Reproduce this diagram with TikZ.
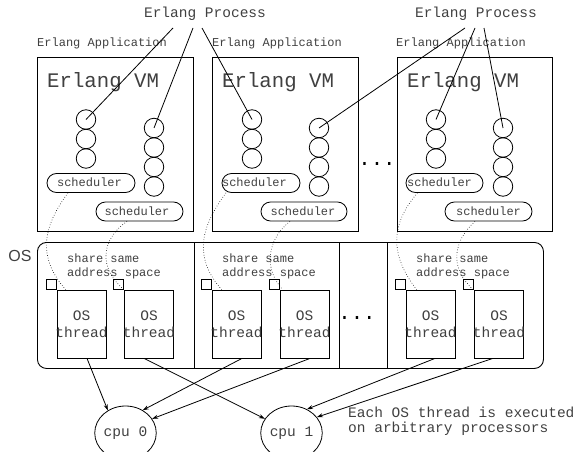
\documentclass[tikz,border=0pt]{standalone}
\usepackage{fontspec}
\setmainfont{Liberation Mono}
\newfontfamily\sansOS{Liberation Sans}
\usetikzlibrary{arrows.meta,shapes.geometric}
\begin{document}
\begin{tikzpicture}[x=1pt,y=-1pt,
  ftxt/.style={font=\fontsize{14.5}{17}\selectfont, inner sep=0, text=black!75},
  stxt/.style={font=\fontsize{12}{14.5}\selectfont, inner sep=0, text=black!75},
  vmtxt/.style={font=\fontsize{20.7}{24}\selectfont, inner sep=0, text=black!75},
  vmbox/.style={draw, line width=0.9pt, inner sep=0, anchor=north west, minimum height=174pt},
  proc/.style={circle, draw, minimum size=19.5pt, inner sep=0, line width=0.8pt},
  sched/.style={draw, rounded corners=9.5pt, minimum height=19pt, inner sep=0, line width=0.8pt},
  thr/.style={draw, inner sep=0, minimum width=49pt, minimum height=68pt, line width=0.8pt},
  sq/.style={draw, inner sep=0, minimum size=10pt, line width=0.8pt, anchor=south east},
  cpu/.style={ellipse, draw, minimum width=61pt, minimum height=54pt, inner sep=0, line width=0.8pt, font=\fontsize{14.5}{17}\selectfont, text=black!75},
  link/.style={line width=0.8pt},
  arr/.style={line width=0.8pt, -{Stealth[length=6pt,width=4pt]}},
  dots/.style={dotted, line width=0.6pt}
]
\useasboundingbox (0,0) rectangle (578,452);

% Erlang Process labels
\node[ftxt, anchor=base] (ep1) at (205,18) {Erlang Process};
\node[ftxt, anchor=base] (ep2) at (476,18) {Erlang Process};

% Erlang Application labels
\node[stxt, anchor=base west] (app1) at (37,47) {Erlang Application};
\node[stxt, anchor=base west] (app2) at (212,47) {Erlang Application};
\node[stxt, anchor=base west] (app3) at (396,47) {Erlang Application};

% VM boxes
\node[vmbox, minimum width=156pt] (vm1) at (37,57) {};
\node[vmbox, minimum width=146pt] (vm2) at (212,57) {};
\node[vmbox, minimum width=155pt] (vm3) at (397,57) {};
\node[vmtxt, anchor=base west] (vmt1) at (47,87) {Erlang VM};
\node[vmtxt, anchor=base west] (vmt2) at (222,87) {Erlang VM};
\node[vmtxt, anchor=base west] (vmt3) at (407,87) {Erlang VM};

% processes
\foreach \b/\xa/\xb in {1/86/154, 2/252/319, 3/436/503} {
  \foreach \i/\yy in {1/119.5, 2/139, 3/158.5}
    \node[proc] (a\b\i) at (\xa,\yy) {};
  \foreach \i/\yy in {1/128, 2/147.5, 3/167, 4/186.5}
    \node[proc] (b\b\i) at (\xb,\yy) {};
}

% dots between VMs
\node[vmtxt, anchor=base, text=black] (vmdots) at (377,165) {...};

% schedulers
\node[sched, minimum width=88pt] (s11) at (91,183) {};
\node[stxt, anchor=base] (s11t) at (89.5,186) {scheduler};
\node[sched, minimum width=87pt] (s12) at (139.5,211.5) {};
\node[stxt, anchor=base] (s12t) at (137,215) {scheduler};
\node[sched, minimum width=78pt] (s21) at (261,183) {};
\node[stxt, anchor=base] (s21t) at (254.5,186) {scheduler};
\node[sched, minimum width=86pt] (s22) at (304,211.5) {};
\node[stxt, anchor=base] (s22t) at (303,215) {scheduler};
\node[sched, minimum width=77pt] (s31) at (444.5,183) {};
\node[stxt, anchor=base] (s31t) at (439.5,186) {scheduler};
\node[sched, minimum width=87pt] (s32) at (488.5,211.5) {};
\node[stxt, anchor=base] (s32t) at (488.5,215) {scheduler};

% OS box
\node[draw, line width=0.9pt, rounded corners=9pt, inner sep=0, anchor=north west,
      minimum width=506pt, minimum height=126pt] (os) at (37,242) {};
\draw[line width=0.8pt] (os.north -| vm1.east) -- (os.south -| vm1.east);
\draw[line width=0.8pt] (339,242) -- (339,368);
\draw[line width=0.8pt] (387,242) -- (387,368);
\node[font=\sansOS\fontsize{16}{18}\selectfont, inner sep=0, anchor=base, text=black!75] (oslabel) at (20,261) {OS};
\node[vmtxt, anchor=base, text=black] (osdots) at (357,319) {...};

% share same address space
\foreach \k/\xx in {1/67, 2/222, 3/416} {
  \node[stxt, anchor=base west] (sh\k) at (\xx,262) {share same};
  \node[stxt, anchor=base west] (ad\k) at (\xx,276) {address space};
}

% threads
\foreach \n/\xx in {11/81.5, 12/149, 21/236.5, 22/304.5, 31/430.5, 32/499} {
  \node[thr] (t\n) at (\xx,324) {};
  \node[sq] (q\n) at (t\n.north west) {};
  \node[ftxt, anchor=base] (to\n) at (\xx,320) {OS};
  \node[ftxt, anchor=base] (tt\n) at (\xx,337) {thread};
}

% CPUs
\node[cpu] (cpu0) at (125.5,433) {cpu 0};
\node[cpu] (cpu1) at (291.5,433) {cpu 1};

\node[ftxt, anchor=base west] (note1) at (348,417) {Each OS thread is executed};
\node[ftxt, anchor=base west] (note2) at (348,432) {on arbitrary processors};

% process links
\draw[link] ([shift={(-32,10)}]ep1.base) -- (a11.center);
\draw[link] ([shift={(-12,10)}]ep1.base) -- (b11.center);
\draw[link] ([shift={(-3,10)}]ep1.base) -- (a21.center);
\draw[link] ([shift={(-11,10)}]ep2.base) -- (b21.center);
\draw[link] ([shift={(-1,10)}]ep2.base) -- (a31.center);
\draw[link] ([shift={(8,10)}]ep2.base) -- (b31.center);

% scheduler to thread (dotted)
\draw[dots] ([xshift=-23pt]s11.south) .. controls +(-26,35) and +(-28,-32) .. ([xshift=9pt]t11.north west);
\draw[dots] ([xshift=-12.5pt]s12.south) .. controls +(-25,17) and +(-27,-22) .. (t12.north west);
\draw[dots] ([xshift=-35pt]s21.south) .. controls +(-26,35) and +(-28,-32) .. ([xshift=10pt]t21.north west);
\draw[dots] ([xshift=-14pt]s22.south) .. controls +(-22,17) and +(-20,-22) .. ([xshift=3pt]t22.north west);
\draw[dots] ([xshift=-27pt]s31.south) .. controls +(-26,30) and +(-28,-36) .. ([xshift=11pt]t31.north west);
\draw[dots] ([xshift=-13.5pt]s32.south) .. controls +(-22,20) and +(-24,-22) .. ([xshift=-1pt]t32.north west);

% threads to cpus
\draw[arr] ([xshift=5.5pt]t11.south) -- (cpu0.128);
\draw[arr] ([xshift=-5pt]t12.south) -- (cpu1.152);
\draw[arr] ([xshift=5.5pt]t21.south) -- (cpu0.53);
\draw[arr] ([xshift=5.5pt]t22.south) -- (cpu0.28);
\draw[arr] ([xshift=4.5pt]t31.south) -- (cpu1.57);
\draw[arr] ([xshift=-6pt]t32.south) -- (cpu1.32);
\end{tikzpicture}
\end{document}
